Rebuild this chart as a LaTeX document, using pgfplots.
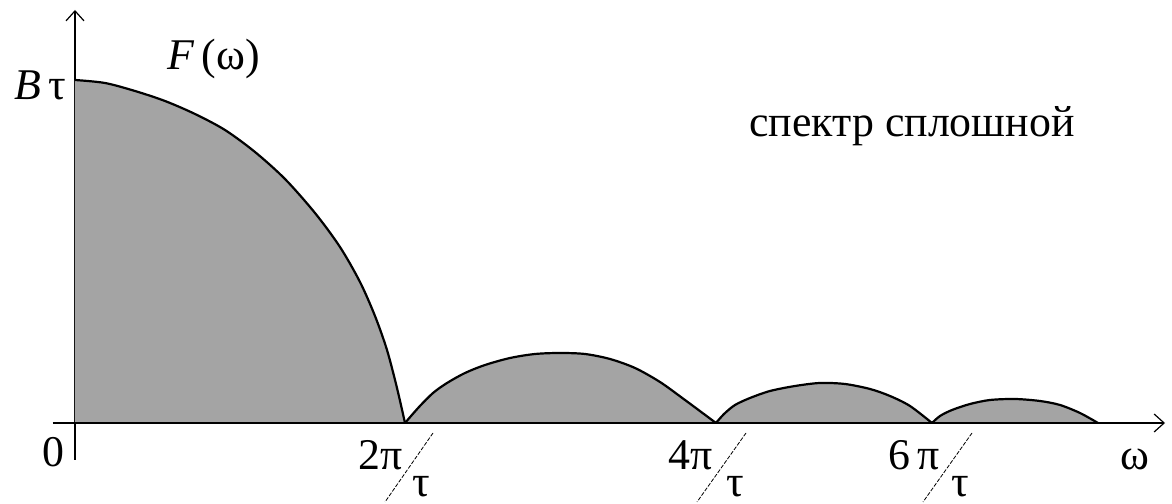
\documentclass[border=0pt]{standalone}
\usepackage{fontspec}
\setmainfont{Liberation Serif}
\usepackage{pgfplots}
\pgfplotsset{compat=1.18}
\usetikzlibrary{arrows.meta}
\definecolor{lobe}{HTML}{A4A4A4}
\begin{document}
\begin{tikzpicture}
\begin{axis}[
  x=0.5bp, y=0.5bp,
  xmin=-22, xmax=1090,
  ymin=-37, ymax=413,
  axis lines=middle,
  axis line style={line width=0.6bp, -{Straight Barb[length=5bp,width=9bp,line width=0.6bp]}},
  xtick=\empty, ytick=\empty,
  clip=false,
  font=\fontsize{22}{26}\selectfont,
  every axis plot/.append style={smooth},
]
% invisible frame: keeps the page at the reference proportions
\path (axis cs:-75,-81) rectangle (axis cs:1097,423);

% main lobe
\addplot[fill=lobe, draw=none] coordinates {
(0,343) (30,340) (60,332) (90,322) (120,309) (150,293) (180,271) (210,244)
(240,210) (265,176) (285,141) (300,107) (312,73) (322,35) (330,0)
} \closedcycle;
\addplot[line width=1.1bp] coordinates {
(0,343) (30,340) (60,332) (90,322) (120,309) (150,293) (180,271) (210,244)
(240,210) (265,176) (285,141) (300,107) (312,73) (322,35) (330,0)
};

% second lobe
\addplot[fill=lobe, draw=none] coordinates {
(330,0) (344,16) (358,30) (372,40) (390,50) (410,58) (435,65) (460,69)
(485,70) (510,69) (535,64) (560,55) (585,41) (610,23) (641,0)
} \closedcycle;
\addplot[line width=1.1bp] coordinates {
(330,0) (344,16) (358,30) (372,40) (390,50) (410,58) (435,65) (460,69)
(485,70) (510,69) (535,64) (560,55) (585,41) (610,23) (641,0)
};

% third lobe
\addplot[fill=lobe, draw=none] coordinates {
(641,0) (649,9) (660,18) (675,25) (695,32) (720,37) (745,40) (770,39)
(795,34) (815,27) (835,17) (857,0)
} \closedcycle;
\addplot[line width=1.1bp] coordinates {
(641,0) (649,9) (660,18) (675,25) (695,32) (720,37) (745,40) (770,39)
(795,34) (815,27) (835,17) (857,0)
};

% fourth lobe
\addplot[fill=lobe, draw=none] coordinates {
(857,0) (865,7) (877,13) (895,19) (915,23) (940,24) (965,22) (985,18)
(1005,10) (1023,0)
} \closedcycle;
\addplot[line width=1.1bp] coordinates {
(857,0) (865,7) (877,13) (895,19) (915,23) (940,24) (965,22) (985,18)
(1005,10) (1023,0)
};

% redraw the baseline over the fills
\draw[line width=0.6bp] (axis cs:-22,0) -- (axis cs:1050,0);

% labels
\node[anchor=base east, inner sep=0pt] at (axis cs:-8,323) {\textit{B}\,τ};
\node[anchor=base west, inner sep=0pt] at (axis cs:92,353) {\textit{F}\,(ω)};
\node[anchor=base, inner sep=0pt] at (axis cs:837,286) {спектр сплошной};
\node[anchor=base west, inner sep=0pt] at (axis cs:1045,-47) {ω};
\node[anchor=base east, inner sep=0pt] at (axis cs:-10,-44) {0};

\tikzset{slash/.style={line width=0.4bp, dash pattern=on 2bp off 0.8bp}}
\node[anchor=base east, inner sep=0pt] at (axis cs:328,-47) {2π};
\draw[slash] (axis cs:358,-10) -- (axis cs:310,-79);
\node[anchor=base, inner sep=0pt] at (axis cs:346,-74) {τ};

\node[anchor=base east, inner sep=0pt] at (axis cs:638,-47) {4π};
\draw[slash] (axis cs:671,-10) -- (axis cs:622,-79);
\node[anchor=base, inner sep=0pt] at (axis cs:660,-74) {τ};

\node[anchor=base east, inner sep=0pt] at (axis cs:865,-47) {6\,π};
\draw[slash] (axis cs:897,-10) -- (axis cs:848,-79);
\node[anchor=base, inner sep=0pt] at (axis cs:885,-74) {τ};
\end{axis}
\end{tikzpicture}
\end{document}
